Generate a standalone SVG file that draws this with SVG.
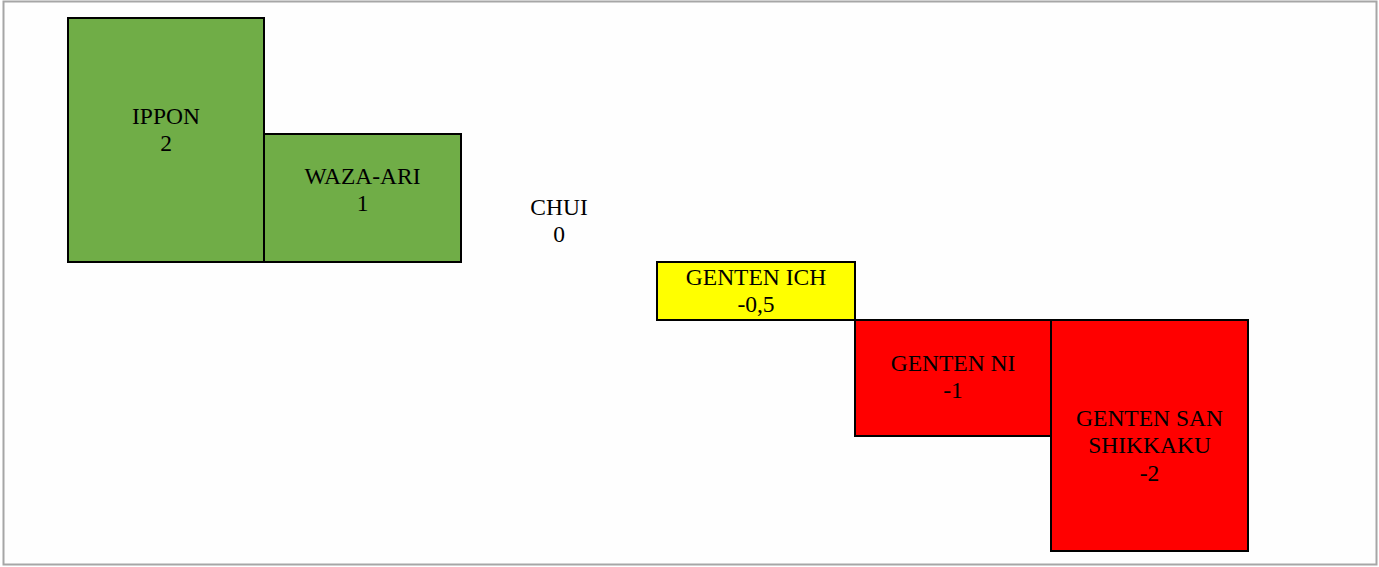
<svg xmlns="http://www.w3.org/2000/svg" width="1379" height="567" viewBox="0 0 1379 567">
<style>
.box{stroke:#000;stroke-width:2}
.t{font-family:"Liberation Serif","Times New Roman",serif;font-size:23.5px;fill:#000;text-anchor:middle}
</style>
<rect x="0" y="0" width="1379" height="567" fill="#fff"/>
<rect x="3.5" y="1.5" width="1373" height="563" fill="#fefefe" stroke="#a6a6a6" stroke-width="2"/>
<g id="connectors"></g>
<g id="ippon">
<rect class="box" x="68" y="18" width="196" height="244" fill="#70ad47"/>
<text class="t" x="166" y="124">IPPON</text>
<text class="t" x="166" y="151">2</text>
</g>
<g id="waza-ari">
<rect class="box" x="264" y="134" width="197" height="128" fill="#70ad47"/>
<text class="t" x="362.5" y="184">WAZA-ARI</text>
<text class="t" x="362.5" y="211">1</text>
</g>
<g id="chui">
<text class="t" x="559" y="215">CHUI</text>
<text class="t" x="559" y="242">0</text>
</g>
<g id="genten-ich">
<rect class="box" x="657" y="262" width="198" height="58" fill="#ffff00"/>
<text class="t" x="756" y="285">GENTEN ICH</text>
<text class="t" x="756" y="312">-0,5</text>
</g>
<g id="genten-ni">
<rect class="box" x="855" y="320" width="196" height="116" fill="#ff0000"/>
<text class="t" x="953" y="371">GENTEN NI</text>
<text class="t" x="953" y="398">-1</text>
</g>
<g id="genten-san">
<rect class="box" x="1051" y="320" width="197" height="231" fill="#ff0000"/>
<text class="t" x="1149.5" y="426">GENTEN SAN</text>
<text class="t" x="1149.5" y="453">SHIKKAKU</text>
<text class="t" x="1149.5" y="481">-2</text>
</g>
</svg>
